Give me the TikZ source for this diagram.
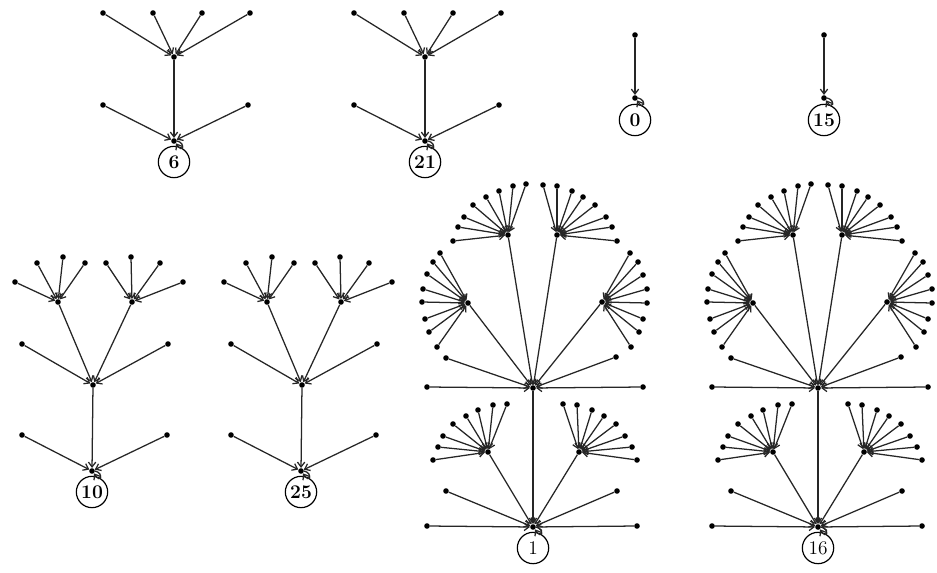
\documentclass[tikz,border=0pt]{standalone}
\usetikzlibrary{arrows.meta,calc}
\tikzset{
 vtx/.style={circle,fill=black,inner sep=0pt,minimum size=4.2pt},
 arr/.style={-{Straight Barb[length=3.6pt,width=5.5pt]},line width=0.95pt,draw=black!85},
 lbl/.style={circle,draw,line width=0.9pt,minimum size=23.5pt,inner sep=0pt,font=\fontsize{14.5}{14.5}\selectfont\bfseries},
 lblr/.style={lbl,font=\fontsize{14.5}{14.5}\selectfont}
}
\newcommand\hubleaves[2]{\foreach \lx/\ly [count=\i] in {#2}{\node[vtx] (#1-\i) at ($(#1)+(\lx,\ly)$) {}; \draw[arr] (#1-\i) -- (#1);}}
\newcommand\selfloop[1]{\draw[arr] (#1.east) .. controls +(9,2) and +(7,11) .. (#1.-50);}
\begin{document}
\begin{tikzpicture}[x=0.75pt,y=-0.75pt]
\path[use as bounding box] (0,0) rectangle (937,573);

% ---- trees 6 and 21
\foreach \p/\rx/\lab in {S6/174/6, S21/425/21}{
 \node[vtx] (\p-r) at (\rx,141) {};
 \node[lbl] (\p-c) at (\rx,162) {\lab};
 \selfloop{\p-r}
 \node[vtx] (\p-h) at ($(\p-r)+(0,-84)$) {};
 \draw[arr] (\p-h) -- (\p-r);
 \hubleaves{\p-r}{-71/-36, 74/-36}
 \hubleaves{\p-h}{-71/-44, -21/-44, 28/-44, 76/-44}
}

% ---- trees 0 and 15
\foreach \p/\rx/\lab in {S0/635/0, S15/824/15}{
 \node[vtx] (\p-r) at (\rx,98) {};
 \node[lbl] (\p-c) at (\rx,120) {\lab};
 \selfloop{\p-r}
 \hubleaves{\p-r}{0/-63}
}

% ---- trees 10 and 25
\foreach \p/\rx/\lab in {S10/92/10, S25/301/25}{
 \node[vtx] (\p-r) at (\rx,471) {};
 \node[lbl] (\p-c) at (\rx,492) {\lab};
 \selfloop{\p-r}
 \node[vtx] (\p-m) at ($(\p-r)+(1,-86)$) {};
 \draw[arr] (\p-m) -- (\p-r);
 \hubleaves{\p-r}{-70/-36, 75/-36}
 \node[vtx] (\p-tl) at ($(\p-m)+(-35,-83)$) {};
 \node[vtx] (\p-tr) at ($(\p-m)+(39,-83)$) {};
 \draw[arr] (\p-tl) -- (\p-m);
 \draw[arr] (\p-tr) -- (\p-m);
 \hubleaves{\p-m}{-71/-41, 75/-41}
 \hubleaves{\p-tl}{-43/-20, -21/-39, 5/-45, 27/-39}
 \hubleaves{\p-tr}{-26/-39, -1/-45, 28/-39, 51/-20}
}

% ---- trees 1 and 16
\foreach \p/\rx/\lab in {B1/533/1, B16/818/16}{
 \node[vtx] (\p-r) at (\rx,527) {};
 \node[lblr] (\p-c) at (\rx,548) {\lab};
 \selfloop{\p-r}
 \node[vtx] (\p-H) at ($(\p-r)+(0,-139)$) {};
 \node[vtx] (\p-LL) at ($(\p-r)+(-45,-75)$) {};
 \node[vtx] (\p-LR) at ($(\p-r)+(46,-75)$) {};
 \draw[arr] (\p-H) -- (\p-r);
 \draw[arr] (\p-LL) -- (\p-r);
 \draw[arr] (\p-LR) -- (\p-r);
 \hubleaves{\p-r}{-106/-1, 104/-1, -87/-36, 84/-36}
 \hubleaves{\p-LL}{-55/8, -50/-5, -45/-16, -35/-28, -22/-36, -10/-42, 5/-47, 19/-48}
 \hubleaves{\p-LR}{-16/-48, -2/-47, 13/-42, 25/-36, 37/-28, 46/-16, 53/-5, 58/8}
 \node[vtx] (\p-UL) at ($(\p-H)+(-25,-153)$) {};
 \node[vtx] (\p-UR) at ($(\p-H)+(24,-153)$) {};
 \node[vtx] (\p-L) at ($(\p-H)+(-65,-85)$) {};
 \node[vtx] (\p-R) at ($(\p-H)+(69,-86)$) {};
 \draw[arr] (\p-UL) -- (\p-H);
 \draw[arr] (\p-UR) -- (\p-H);
 \draw[arr] (\p-L) -- (\p-H);
 \draw[arr] (\p-R) -- (\p-H);
 \hubleaves{\p-H}{-106/-1, 110/-1, -87/-30, 83/-31}
 \hubleaves{\p-UL}{-55/6, -50/-8, -44/-18, -35/-30, -22/-38, -9/-44, 5/-49, 18/-51}
 \hubleaves{\p-UR}{-14/-50, 0/-49, 15/-44, 26/-38, 38/-30, 49/-18, 55/-8, 60/6}
 \hubleaves{\p-L}{-28/-50, -35/-41, -41/-29, -45/-14, -46/-1, -43/16, -39/29, -31/44}
 \hubleaves{\p-R}{28/-49, 36/-40, 41/-27, 45/-13, 45/1, 41/17, 37/30, 29/45}
}
\end{tikzpicture}
\end{document}
